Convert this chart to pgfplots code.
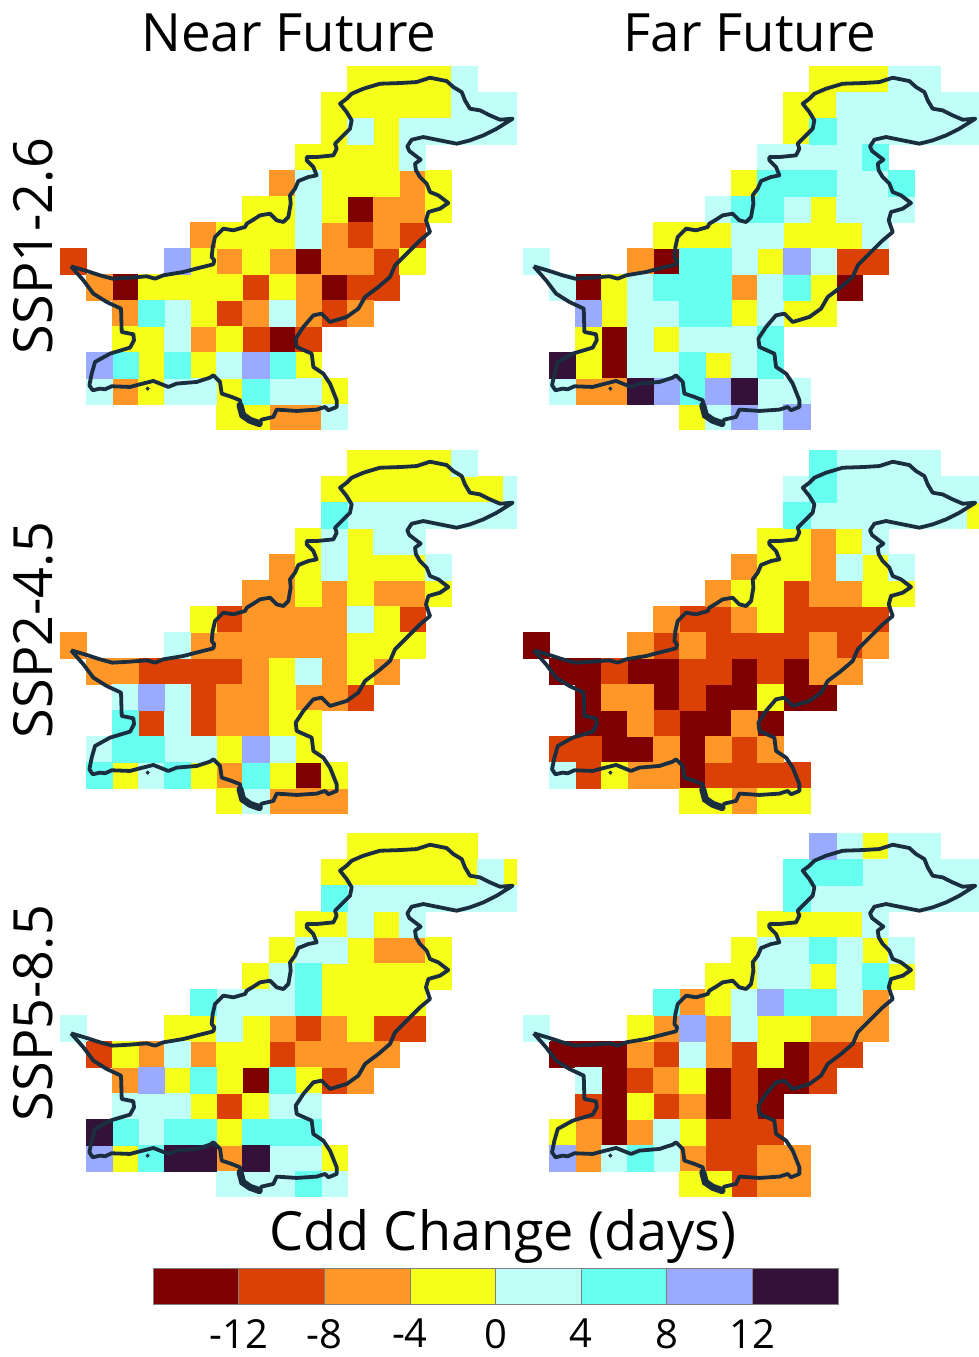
\documentclass[border=0pt]{standalone}
\usepackage{fontspec}
\setmainfont{Open Sans}
\usepackage{pgfplots}
\usepackage{pgfplotstable}
\pgfplotsset{compat=1.18}
\definecolor{cA}{HTML}{7F0000}
\definecolor{cB}{HTML}{DB4105}
\definecolor{cC}{HTML}{FF9728}
\definecolor{cD}{HTML}{F5FF1A}
\definecolor{cE}{HTML}{BFFFF8}
\definecolor{cF}{HTML}{66FFF0}
\definecolor{cG}{HTML}{99AAFF}
\definecolor{cH}{HTML}{331138}
\definecolor{bordercol}{HTML}{1B2E40}
\pgfplotstableread{
x y
63 618
110 632
150 645
187 655
240 652
290 648
315 655
340 645
400 635
450 622
490 612
493 600
485 590
488 560
495 530
520 505
550 510
585 500
590 490
610 478
630 465
660 460
680 480
700 485
715 470
722 430
720 405
735 385
745 362
775 350
800 345
790 320
770 300
770 290
800 290
850 285
860 265
855 250
880 225
900 205
905 180
890 155
870 130
890 115
905 100
940 85
990 70
1050 68
1100 65
1140 52
1190 62
1210 80
1235 95
1245 120
1260 145
1290 150
1320 165
1350 178
1388 175
1340 205
1300 225
1260 240
1220 250
1170 240
1120 230
1085 238
1072 258
1078 272
1095 285
1112 298
1095 310
1098 330
1110 350
1130 370
1140 395
1165 405
1195 428
1170 445
1135 455
1128 480
1140 515
1110 540
1085 565
1060 590
1035 615
1020 650
985 680
945 710
925 745
890 770
840 785
815 760
790 765
760 800
737 835
740 860
785 880
790 920
820 940
840 970
860 1020
860 1040
835 1050
825 1040
800 1048
740 1052
680 1048
670 1070
635 1078
625 1092
590 1075
575 1050
570 1020
545 1010
515 1000
510 965
490 945
480 952
440 965
380 970
355 980
325 968
310 962
270 972
240 980
185 978
165 987
150 985
128 990
118 975
125 940
135 905
180 880
240 862
252 840
250 822
215 815
213 745
170 725
130 700
100 660
63 618
}\shapeline
\pgfplotstableread{
x y
570 1035
578 1065
600 1080
628 1090
}\shapeblob
\pgfplotstableread{
x y
293 985
}\shapedot
\pgfplotsset{
 panel/.style={anchor=north west,scale only axis,width=228.6pt,height=182.1pt,
   xmin=-0.5,xmax=17.03,ymin=-0.5,ymax=13.5,y dir=reverse,hide axis,clip marker paths=true},
 gridcell/.style={only marks,mark=square*,mark size=6.53pt,color=#1,
   mark options={line width=0.1pt,draw=#1,fill=#1}},
}
\newcommand\drawborder{%
 \addplot[bordercol,line width=1.9pt,line join=round,mark=none] table[x expr=(\thisrow{x}-69)/78.25,y expr=(\thisrow{y}-55)/78.07]{\shapeline};
 \addplot[bordercol,line width=3.5pt,line cap=round,mark=none] table[x expr=(\thisrow{x}-69)/78.25,y expr=(\thisrow{y}-55)/78.07]{\shapeblob};
 \addplot[bordercol,only marks,mark=*,mark size=0.8pt] table[x expr=(\thisrow{x}-69)/78.25,y expr=(\thisrow{y}-55)/78.07]{\shapedot};
}
\begin{document}
\begin{tikzpicture}[x=0.5pt,y=-0.5pt]
\useasboundingbox (0,0) rectangle (979,1357);
\node[font=\fontsize{26.4}{30}\selectfont] at (289,33) {Near Future};
\node[font=\fontsize{26.4}{30}\selectfont] at (750,33) {Far Future};
\node[font=\fontsize{27}{30}\selectfont,rotate=90] at (33,246) {SSP1-2.6};
\node[font=\fontsize{27}{30}\selectfont,rotate=90] at (33,630) {SSP2-4.5};
\node[font=\fontsize{27}{30}\selectfont,rotate=90] at (33,1013) {SSP5-8.5};
\node[font=\fontsize{27}{32}\selectfont] at (503,1236) {Cdd Change (days)};

% SSP1-2.6 near
\begin{axis}[panel,at={(30pt,-32.85pt)}]
\addplot[gridcell=cA] coordinates {(11,5)(9,7)(2,8)(10,8)(8,10)};
\addplot[gridcell=cB] coordinates {(11,6)(13,6)(0,7)(12,7)(7,8)(11,8)(12,8)(6,9)(10,9)(7,10)(9,10)};
\addplot[gridcell=cC] coordinates {(8,4)(13,4)(12,5)(13,5)(5,6)(10,6)(12,6)(6,7)(8,7)(10,7)(11,7)(1,8)(9,8)(2,9)(7,9)(9,9)(11,9)(5,10)(2,12)(8,13)(9,13)};
\addplot[gridcell=cD] coordinates {(11,0)(12,0)(13,0)(14,0)(10,1)(11,1)(12,1)(13,1)(14,1)(10,2)(12,2)(9,3)(10,3)(11,3)(12,3)(10,4)(11,4)(12,4)(14,4)(7,5)(8,5)(10,5)(14,5)(6,6)(7,6)(8,6)(5,7)(7,7)(13,7)(3,8)(4,8)(5,8)(6,8)(8,8)(5,9)(2,10)(3,10)(6,10)(3,11)(5,11)(9,11)(3,12)(6,12)(10,12)(6,13)(7,13)};
\addplot[gridcell=cE] coordinates {(15,0)(15,1)(16,1)(17,1)(11,2)(13,2)(14,2)(15,2)(16,2)(17,2)(13,3)(9,4)(9,5)(9,6)(4,9)(8,9)(4,10)(6,11)(1,12)(4,12)(5,12)(8,12)(9,12)(10,13)};
\addplot[gridcell=cF] coordinates {(3,9)(2,11)(4,11)(8,11)(7,12)};
\addplot[gridcell=cG] coordinates {(4,7)(1,11)(7,11)};
\drawborder
\end{axis}

% SSP1-2.6 far
\begin{axis}[panel,at={(261.35pt,-32.85pt)}]
\addplot[gridcell=cA] coordinates {(5,7)(2,8)(12,8)(3,10)(3,11)};
\addplot[gridcell=cB] coordinates {(12,7)(13,7)};
\addplot[gridcell=cC] coordinates {(4,7)(8,8)(2,12)(3,12)};
\addplot[gridcell=cD] coordinates {(11,0)(12,0)(13,0)(10,1)(11,1)(10,2)(8,4)(11,5)(5,6)(6,6)(7,6)(10,6)(11,6)(12,6)(9,7)(3,8)(11,8)(3,9)(8,9)(10,9)(11,9)(2,10)(5,10)(2,11)(7,11)(6,13)};
\addplot[gridcell=cE] coordinates {(14,0)(15,0)(12,1)(13,1)(14,1)(15,1)(16,1)(17,1)(12,2)(13,2)(14,2)(15,2)(16,2)(17,2)(9,3)(10,3)(11,3)(12,3)(12,4)(13,4)(7,5)(10,5)(12,5)(13,5)(14,5)(8,6)(9,6)(13,6)(0,7)(8,7)(11,7)(1,8)(4,8)(9,8)(4,9)(5,9)(9,9)(4,10)(6,10)(7,10)(8,10)(4,11)(5,11)(8,11)(1,12)(9,12)(10,12)(7,13)(9,13)};
\addplot[gridcell=cF] coordinates {(11,2)(13,3)(9,4)(10,4)(11,4)(14,4)(8,5)(9,5)(6,7)(7,7)(5,8)(6,8)(7,8)(10,8)(6,9)(7,9)(9,10)(6,11)(9,11)(6,12)};
\addplot[gridcell=cG] coordinates {(10,7)(2,9)(5,12)(7,12)(8,13)(10,13)};
\addplot[gridcell=cH] coordinates {(1,11)(4,12)(8,12)};
\drawborder
\end{axis}

% SSP2-4.5 near
\begin{axis}[panel,at={(30pt,-224.85pt)}]
\addplot[gridcell=cA] coordinates {(9,12)};
\addplot[gridcell=cB] coordinates {(6,6)(13,6)(3,8)(4,8)(5,8)(6,8)(5,9)(11,9)(3,10)(5,10)};
\addplot[gridcell=cC] coordinates {(8,4)(7,5)(8,5)(10,5)(12,5)(13,5)(7,6)(8,6)(9,6)(10,6)(0,7)(5,7)(6,7)(7,7)(8,7)(9,7)(10,7)(1,8)(2,8)(7,8)(10,8)(12,8)(6,9)(7,9)(9,9)(10,9)(6,10)(7,10)(6,12)(8,13)(9,13)(10,13)};
\addplot[gridcell=cD] coordinates {(11,0)(12,0)(13,0)(14,0)(10,1)(11,1)(12,1)(13,1)(14,1)(15,1)(16,1)(9,3)(11,3)(9,4)(11,4)(12,4)(13,4)(9,5)(11,5)(14,5)(5,6)(12,6)(11,7)(12,7)(13,7)(8,8)(11,8)(8,9)(8,10)(9,10)(6,11)(9,11)(2,12)(5,12)(8,12)(10,12)(6,13)};
\addplot[gridcell=cE] coordinates {(15,0)(17,1)(11,2)(12,2)(13,2)(14,2)(15,2)(16,2)(17,2)(10,3)(12,3)(13,3)(10,4)(14,4)(11,6)(4,7)(9,8)(2,9)(4,9)(4,10)(1,11)(4,11)(5,11)(8,11)(3,12)(7,13)};
\addplot[gridcell=cF] coordinates {(10,2)(2,10)(2,11)(3,11)(1,12)(4,12)(7,12)};
\addplot[gridcell=cG] coordinates {(3,9)(7,11)};
\drawborder
\end{axis}

% SSP2-4.5 far
\begin{axis}[panel,at={(261.35pt,-224.85pt)}]
\addplot[gridcell=cA] coordinates {(0,7)(1,8)(2,8)(4,8)(5,8)(8,8)(10,8)(2,9)(5,9)(7,9)(8,9)(10,9)(11,9)(2,10)(3,10)(6,10)(7,10)(9,10)(3,11)(4,11)(6,11)(6,12)};
\addplot[gridcell=cB] coordinates {(10,5)(6,6)(7,6)(10,6)(11,6)(12,6)(13,6)(5,7)(7,7)(8,7)(9,7)(10,7)(12,7)(3,8)(6,8)(7,8)(9,8)(6,9)(5,10)(1,11)(2,11)(8,11)(2,12)(7,12)(8,12)(9,12)(10,12)};
\addplot[gridcell=cC] coordinates {(11,3)(8,4)(11,4)(7,5)(11,5)(12,5)(5,6)(8,6)(4,7)(6,7)(11,7)(13,7)(11,8)(12,8)(3,9)(4,9)(4,10)(8,10)(5,11)(7,11)(9,11)(4,12)(5,12)(8,13)};
\addplot[gridcell=cD] coordinates {(17,2)(9,3)(10,3)(12,3)(9,4)(10,4)(13,4)(8,5)(9,5)(13,5)(14,5)(9,6)(9,9)(3,12)(6,13)(7,13)(9,13)(10,13)};
\addplot[gridcell=cE] coordinates {(12,0)(13,0)(14,0)(15,0)(10,1)(12,1)(13,1)(14,1)(15,1)(16,1)(17,1)(11,2)(12,2)(13,2)(14,2)(15,2)(16,2)(13,3)(12,4)(14,4)(1,12)};
\addplot[gridcell=cF] coordinates {(11,0)(11,1)(10,2)};
\drawborder
\end{axis}

% SSP5-8.5 near
\begin{axis}[panel,at={(30pt,-416.35pt)}]
\addplot[gridcell=cA] coordinates {(7,9)};
\addplot[gridcell=cB] coordinates {(9,7)(12,7)(13,7)(1,8)(8,8)(10,9)(6,10)};
\addplot[gridcell=cC] coordinates {(12,4)(13,4)(8,7)(10,7)(3,8)(5,8)(9,8)(10,8)(11,8)(12,8)(2,9)(11,9)(6,12)};
\addplot[gridcell=cD] coordinates {(11,0)(12,0)(13,0)(14,0)(15,0)(10,1)(11,1)(12,1)(13,1)(14,1)(15,1)(17,1)(9,3)(10,3)(12,3)(8,4)(11,4)(14,4)(7,5)(10,5)(11,5)(12,5)(13,5)(14,5)(10,6)(11,6)(12,6)(13,6)(4,7)(5,7)(7,7)(11,7)(2,8)(6,8)(7,8)(4,9)(6,9)(9,9)(5,10)(7,10)(6,11)(2,12)(10,12)};
\addplot[gridcell=cE] coordinates {(16,1)(11,2)(12,2)(13,2)(14,2)(15,2)(16,2)(17,2)(11,3)(13,3)(9,4)(10,4)(8,5)(6,6)(7,6)(8,6)(0,7)(6,7)(4,8)(2,10)(3,10)(4,10)(8,10)(9,10)(3,11)(8,12)(9,12)(6,13)(7,13)(8,13)(10,13)};
\addplot[gridcell=cF] coordinates {(10,2)(9,5)(5,6)(9,6)(5,9)(8,9)(2,11)(4,11)(5,11)(7,11)(8,11)(9,11)(3,12)(9,13)};
\addplot[gridcell=cG] coordinates {(3,9)(1,12)};
\addplot[gridcell=cH] coordinates {(1,11)(4,12)(5,12)(7,12)};
\drawborder
\end{axis}

% SSP5-8.5 far
\begin{axis}[panel,at={(261.35pt,-416.35pt)}]
\addplot[gridcell=cA] coordinates {(1,8)(2,8)(3,8)(10,8)(3,9)(7,9)(9,9)(10,9)(3,10)(7,10)(9,10)(3,11)};
\addplot[gridcell=cB] coordinates {(5,8)(8,8)(11,8)(12,8)(4,9)(8,9)(11,9)(2,10)(5,10)(8,10)(7,11)(8,11)(9,11)(7,12)(8,12)(8,13)};
\addplot[gridcell=cC] coordinates {(6,6)(13,6)(5,7)(7,7)(11,7)(12,7)(13,7)(4,8)(7,8)(5,9)(6,10)(2,11)(4,11)(2,12)(6,12)(9,12)(10,12)(9,13)(10,13)};
\addplot[gridcell=cD] coordinates {(13,0)(9,3)(10,3)(11,3)(12,3)(8,4)(13,4)(7,5)(8,5)(11,5)(14,5)(7,6)(4,7)(9,7)(10,7)(9,8)(6,9)(4,10)(1,11)(6,11)(6,13)(7,13)};
\addplot[gridcell=cE] coordinates {(12,0)(14,0)(15,0)(13,1)(14,1)(15,1)(16,1)(17,1)(11,2)(12,2)(13,2)(14,2)(15,2)(16,2)(17,2)(13,3)(9,4)(10,4)(12,4)(14,4)(9,5)(10,5)(12,5)(8,6)(12,6)(0,7)(8,7)(6,8)(2,9)(5,11)(3,12)(5,12)};
\addplot[gridcell=cF] coordinates {(10,1)(11,1)(12,1)(10,2)(11,4)(13,5)(5,6)(10,6)(11,6)(4,12)};
\addplot[gridcell=cG] coordinates {(11,0)(9,6)(6,7)(1,12)};
\drawborder
\end{axis}

% colour key
\begin{axis}[anchor=north west,at={(76.5pt,-634pt)},scale only axis,width=342.5pt,height=18pt,
  xmin=-16,xmax=16,ymin=0,ymax=1,axis y line=none,axis x line*=bottom,axis line style={draw=none},
  xtick={-12,-8,-4,0,4,8,12},xticklabels={-12,-8,-4,0,4,8,12},major tick length=0pt,
  xticklabel style={font=\fontsize{20}{24}\selectfont,yshift=-4pt},clip=false]
\addplot[fill=cA,draw=black!50,line width=0.3pt] coordinates {(-16,0)(-16,1)(-12,1)(-12,0)} --cycle;
\addplot[fill=cB,draw=black!50,line width=0.3pt] coordinates {(-12,0)(-12,1)(-8,1)(-8,0)} --cycle;
\addplot[fill=cC,draw=black!50,line width=0.3pt] coordinates {(-8,0)(-8,1)(-4,1)(-4,0)} --cycle;
\addplot[fill=cD,draw=black!50,line width=0.3pt] coordinates {(-4,0)(-4,1)(0,1)(0,0)} --cycle;
\addplot[fill=cE,draw=black!50,line width=0.3pt] coordinates {(0,0)(0,1)(4,1)(4,0)} --cycle;
\addplot[fill=cF,draw=black!50,line width=0.3pt] coordinates {(4,0)(4,1)(8,1)(8,0)} --cycle;
\addplot[fill=cG,draw=black!50,line width=0.3pt] coordinates {(8,0)(8,1)(12,1)(12,0)} --cycle;
\addplot[fill=cH,draw=black!50,line width=0.3pt] coordinates {(12,0)(12,1)(16,1)(16,0)} --cycle;
\end{axis}
\end{tikzpicture}
\end{document}
